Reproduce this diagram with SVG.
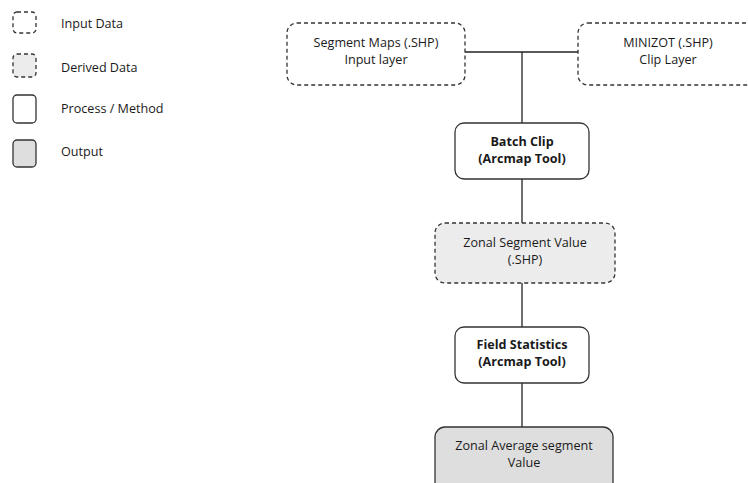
<svg xmlns="http://www.w3.org/2000/svg" width="748" height="483" viewBox="0 0 748 483">
  <style>
    text { font-family: "Open Sans", "Noto Sans", "DejaVu Sans", sans-serif; font-size: 12.6px; fill: #1a1a1a; }
    .c { text-anchor: middle; }
    .b { font-weight: bold; }
    .input { fill: #ffffff; stroke: #333; stroke-width: 1.3; stroke-dasharray: 4 3; }
    .derived { fill: #ececec; stroke: #333; stroke-width: 1.3; stroke-dasharray: 4 3; }
    .process { fill: #ffffff; stroke: #333; stroke-width: 1.3; }
    .output { fill: #dedede; stroke: #333; stroke-width: 1.3; }
    .link { fill: none; stroke: #222; stroke-width: 1.3; }
  </style>
  <rect width="748" height="483" fill="#ffffff"/>

  <!-- legend -->
  <g id="legend">
    <rect class="input" x="13" y="12" width="23" height="21" rx="4"/>
    <text x="61" y="28">Input Data</text>
    <rect class="derived" x="13" y="54" width="23" height="23" rx="4"/>
    <text x="61" y="72">Derived Data</text>
    <rect class="process" x="13" y="95" width="23" height="28" rx="4"/>
    <text x="61" y="113">Process / Method</text>
    <rect class="output" x="13" y="140" width="23" height="27" rx="4"/>
    <text x="61" y="156">Output</text>
  </g>

  <!-- connectors -->
  <g id="connectors">
    <path class="link" d="M465 52 H578"/>
    <path class="link" d="M522 52 V123"/>
    <path class="link" d="M522 179 V223"/>
    <path class="link" d="M522 283 V327"/>
    <path class="link" d="M522 383 V427"/>
  </g>

  <g id="segment-maps">
    <rect class="input" x="287" y="23" width="178" height="62" rx="10"/>
    <text class="c" x="376" y="47">Segment Maps (.SHP)</text>
    <text class="c" x="376" y="64">Input layer</text>
  </g>

  <g id="minizot">
    <rect class="input" x="578" y="23" width="182" height="62" rx="10"/>
    <text class="c" x="668" y="47">MINIZOT (.SHP)</text>
    <text class="c" x="668" y="64">Clip Layer</text>
  </g>

  <g id="batch-clip">
    <rect class="process" x="455" y="123" width="134" height="56" rx="9"/>
    <text class="c b" x="522" y="146">Batch Clip</text>
    <text class="c b" x="522" y="163">(Arcmap Tool)</text>
  </g>

  <g id="zonal-segment-value">
    <rect class="derived" x="435" y="223" width="180" height="60" rx="10"/>
    <text class="c" x="525" y="247">Zonal Segment Value</text>
    <text class="c" x="525" y="264">(.SHP)</text>
  </g>

  <g id="field-statistics">
    <rect class="process" x="455" y="327" width="134" height="56" rx="9"/>
    <text class="c b" x="522" y="349">Field Statistics</text>
    <text class="c b" x="522" y="366">(Arcmap Tool)</text>
  </g>

  <g id="zonal-average">
    <rect class="output" x="435" y="427" width="178" height="70" rx="10"/>
    <text class="c" x="524" y="450">Zonal Average segment</text>
    <text class="c" x="524" y="467">Value</text>
  </g>
</svg>
